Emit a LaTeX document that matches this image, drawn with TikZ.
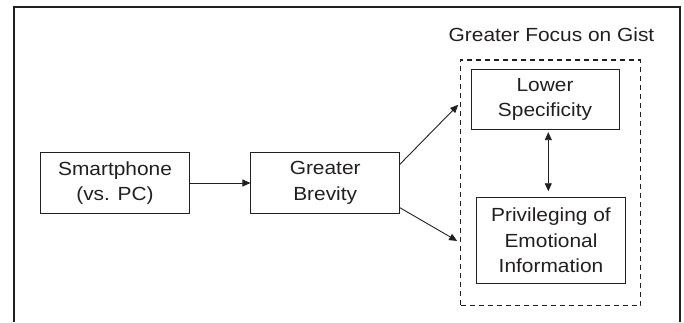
\documentclass[tikz,border=0pt]{standalone}
\usepackage{fontspec}
\setmainfont{Liberation Sans}[FakeStretch=1.1]
\usepackage{xcolor}
\usetikzlibrary{arrows.meta}
\usetikzlibrary{calc}
\definecolor{figink}{HTML}{231F20}
\tikzset{
  figbox/.style={draw=figink, line width=0.9pt, align=center, inner sep=0pt,
    text=figink, font=\fontsize{19}{25.5}\selectfont},
  gistbox/.style={draw=figink, line width=1.2pt, dash pattern=on 5pt off 4pt, inner sep=0pt},
  figarrow/.style={draw=figink, line width=0.9pt, -{Triangle[length=8pt,width=7pt]}},
  figdblarrow/.style={draw=figink, line width=0.9pt,
    {Triangle[length=8pt,width=7pt]}-{Triangle[length=8pt,width=7pt]}}
}
\begin{document}
\begin{tikzpicture}[x=1pt,y=1pt]
        \newcommand{\figboxwidth}{148.6}
        \newcommand{\figboxheight}{60.6}
        \newcommand{\figrowy}{139}
        \useasboundingbox (0,0) rectangle (684,322);
        % frame, open at the bottom
        \draw[figink, line width=2pt] (14,0) -- (14,315) -- (680,315) -- (680,0);
        % left chain
        \node[figbox, minimum width=\figboxwidth, minimum height=\figboxheight] (smartphone) at (115,\figrowy) {Smartphone\\(vs. PC)};
        \node[figbox, minimum width=\figboxwidth, minimum height=\figboxheight] (brevity) at (325.2,\figrowy) {Greater\\Brevity};
        % gist group
        \node[gistbox, minimum width=180, minimum height=245.7] (gist) at (550.7,139.15) {};
        \node[text=figink, font=\fontsize{19}{25.5}\selectfont, anchor=base, inner sep=0pt] (gisttitle) at (551.5,280) {Greater Focus on Gist};
        \node[figbox, minimum width=148, minimum height=60] (specificity) at (545,222.7) {Lower\\Specificity};
        \node[figbox, minimum width=148.6, minimum height=85.6] (emotional) at (551,81.5) {Privileging of\\Emotional\\Information};
        % connectors
        \draw[figarrow] (smartphone) -- (brevity);
        \draw[figarrow, shorten >=2.7pt] ([yshift=-12pt]brevity.north east) -- ([yshift=80pt]gist.west);
        \draw[figarrow, shorten >=3.4pt] ([yshift=6pt]brevity.south east) -- ([yshift=-59.8pt]gist.west);
        \draw[figdblarrow, shorten <=2.4pt, shorten >=6pt] ([xshift=3.3pt]specificity.south) -- ([xshift=-2.7pt]emotional.north);
\end{tikzpicture}
\end{document}
